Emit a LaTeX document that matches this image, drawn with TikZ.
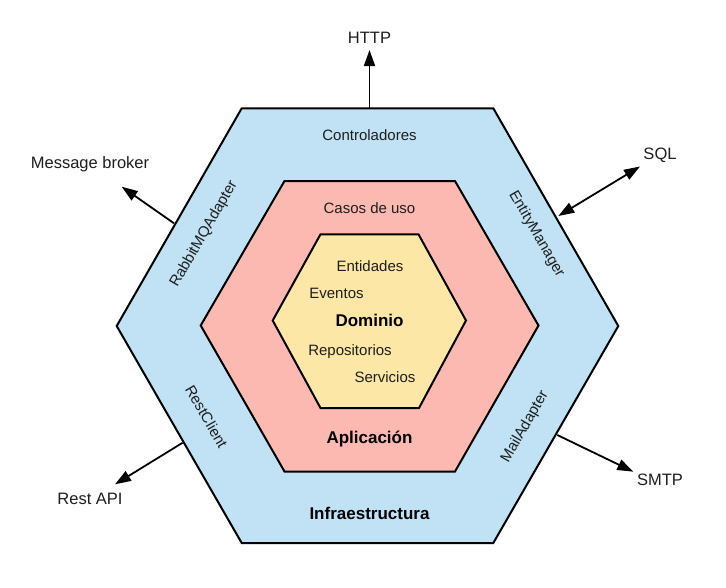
\documentclass[tikz,border=0pt]{standalone}
\usepackage{fontspec}
\setmainfont{Liberation Sans}
\usetikzlibrary{arrows.meta}
\definecolor{infra}{HTML}{C0E2F4}
\definecolor{aplic}{HTML}{FBB9B2}
\definecolor{domin}{HTML}{FCE7A6}
\definecolor{txt}{HTML}{1E1E1E}
\begin{document}
\begin{tikzpicture}[x=1pt,y=-1pt,
  hexline/.style={draw=black, line width=2pt, line join=miter},
  lbl/.style={inner sep=0pt, text=txt, font=\fontsize{15}{18}\selectfont},
  ext/.style={inner sep=0pt, text=txt, font=\fontsize{16.5}{20}\selectfont},
  ttl/.style={inner sep=0pt, text=black, font=\fontsize{17}{20}\selectfont\bfseries},
  conn/.style={line width=1.8pt, -{Triangle[length=16pt,width=11pt]}},
  conn2/.style={line width=1.8pt, {Triangle[length=16pt,width=11pt]}-{Triangle[length=16pt,width=11pt]}}]
\useasboundingbox (0,0) rectangle (726,587);
% hexagons
\draw[hexline, fill=infra] (241.7,108.3) -- (493.3,108.3) -- (618.3,326) -- (493.3,543) -- (241.7,543) -- (116.7,326) -- cycle;
\draw[hexline, fill=aplic] (284.5,181) -- (455,181) -- (538.5,325.5) -- (455,471.5) -- (284.5,471.5) -- (200.7,325.5) -- cycle;
\draw[hexline, fill=domin] (320.5,234.3) -- (418.5,234.3) -- (466,320.5) -- (419,408) -- (320.5,408) -- (272.7,320.5) -- cycle;
% anchor points on the outer hexagon
\coordinate (top) at (369.5,108.3);
\coordinate (tl) at (174,223.3);
\coordinate (tr) at (558.3,216);
\coordinate (bl) at (182.7,442.7);
\coordinate (br) at (557.3,435);
% external labels
\node[ext] (http) at (369.5,38) {HTTP};
\node[ext] (mb) at (90,164) {Message broker};
\node[ext] (sql) at (660,155) {SQL};
\node[ext] (rest) at (90,499) {Rest API};
\node[ext] (smtp) at (660,480) {SMTP};
\coordinate (httpT) at (369.5,50);
\coordinate (mbT) at (121.7,186.7);
\coordinate (sqlT) at (640,166.5);
\coordinate (restT) at (115,484.3);
\coordinate (smtpT) at (633.3,471.7);
% connectors
\draw[conn] (top) -- (httpT);
\draw[conn] (tl) -- (mbT);
\draw[conn2] (tr) -- (sqlT);
\draw[conn] (bl) -- (restT);
\draw[conn] (br) -- (smtpT);
% layer texts
\node[lbl] (ctrl) at (369.5,135) {Controladores};
\node[lbl] (casos) at (369.5,208) {Casos de uso};
\node[lbl] (ent) at (370,266.5) {Entidades};
\node[lbl] (evt) at (336.5,293) {Eventos};
\node[ttl] (dom) at (369.5,320) {Dominio};
\node[lbl] (repo) at (350,352) {Repositorios};
\node[lbl] (serv) at (385,377.5) {Servicios};
\node[ttl] (apl) at (369.5,439.5) {Aplicación};
\node[ttl] (inf) at (369.5,513) {Infraestructura};
% adapters
\node[lbl, rotate=60] (rabbit) at (204,234) {RabbitMQAdapter};
\node[lbl, rotate=-60] (em) at (536.5,234) {EntityManager};
\node[lbl, rotate=-60] (rc) at (206.5,416.5) {RestClient};
\node[lbl, rotate=60] (mail) at (525,427) {MailAdapter};
\end{tikzpicture}
\end{document}
